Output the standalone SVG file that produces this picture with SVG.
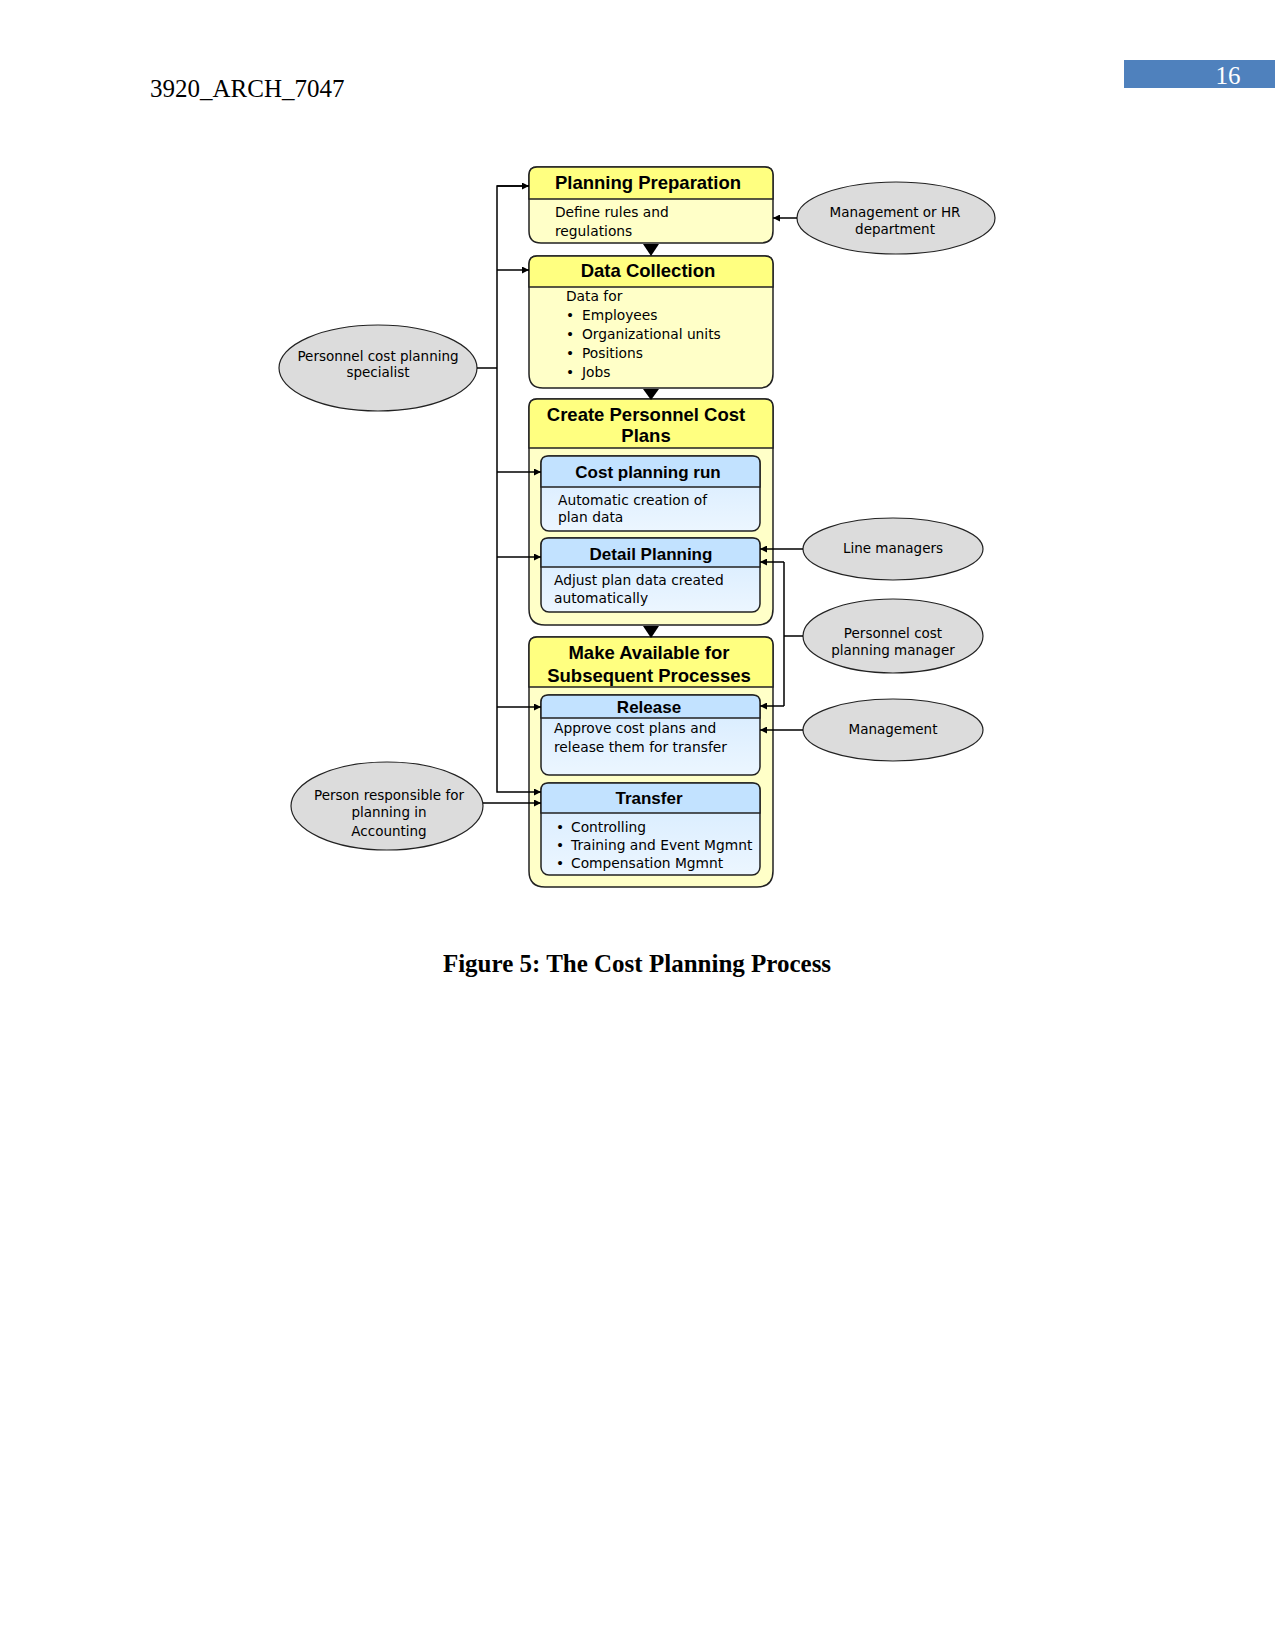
<svg xmlns="http://www.w3.org/2000/svg" width="1275" height="1651" viewBox="0 0 1275 1651">
<style>
.page{font-family:"Liberation Serif",serif;font-size:25px;fill:#000}
.outer{fill:#FFFFC8;stroke:#222;stroke-width:1.5}
.hdr{fill:#FFFF80;stroke:#222;stroke-width:1.5}
.sub{fill:url(#blueBody);stroke:#222;stroke-width:1.5}
.subh{fill:#C2E2FF;stroke:#222;stroke-width:1.5}
.t1{font-family:"Liberation Sans",Arial,sans-serif;font-weight:bold;font-size:18.5px;text-anchor:middle;fill:#000}
.t2{font-family:"Liberation Sans",Arial,sans-serif;font-weight:bold;font-size:17px;text-anchor:middle;fill:#000}
.b{font-family:"DejaVu Sans",sans-serif;font-size:13.8px;fill:#000}
.e{fill:#DCDCDC;stroke:#222;stroke-width:1.2}
.et{font-family:"DejaVu Sans",sans-serif;font-size:13.5px;text-anchor:middle;fill:#000}
.c{fill:none;stroke:#000;stroke-width:1.5}
.tri{fill:#000}
</style>
<defs>
<linearGradient id="blueBody" x1="0" y1="0" x2="0" y2="1">
<stop offset="0" stop-color="#D4EAFF"/>
<stop offset="1" stop-color="#ECF6FF"/>
</linearGradient>
<marker id="ah" viewBox="0 0 10 10" refX="10" refY="5" markerWidth="8" markerHeight="7" markerUnits="userSpaceOnUse" orient="auto">
<path d="M0,0 L10,5 L0,10 Z" fill="#000"/>
</marker>
</defs>

<g id="page-header">
<text class="page" x="150" y="97">3920_ARCH_7047</text>
<rect x="1124" y="60" width="151" height="28" fill="#4F81BD"/>
<text x="1228" y="84" font-family="Liberation Serif,serif" font-size="25" fill="#fff" text-anchor="middle">16</text>
</g>

<g id="planning-preparation">
<path class="outer" d="M529,175 Q529,167 537,167 H765 Q773,167 773,175 V231 Q773,243 761,243 H541 Q529,243 529,231 Z"/>
<path class="hdr" d="M529,199 V175 Q529,167 537,167 H765 Q773,167 773,175 V199 Z"/>
<text class="t1" x="648" y="189">Planning Preparation</text>
<text class="b" x="555" y="217">Define rules and</text>
<text class="b" x="555" y="236">regulations</text>
</g>

<g id="data-collection">
<path class="outer" d="M529,264 Q529,256 537,256 H765 Q773,256 773,264 V374 Q773,388 759,388 H543 Q529,388 529,374 Z"/>
<path class="hdr" d="M529,287 V264 Q529,256 537,256 H765 Q773,256 773,264 V287 Z"/>
<text class="t1" x="648" y="277">Data Collection</text>
<text class="b" x="566" y="301">Data for</text>
<text class="b" y="320"><tspan x="566">•</tspan><tspan x="582">Employees</tspan></text>
<text class="b" y="339"><tspan x="566">•</tspan><tspan x="582">Organizational units</tspan></text>
<text class="b" y="358"><tspan x="566">•</tspan><tspan x="582">Positions</tspan></text>
<text class="b" y="377"><tspan x="566">•</tspan><tspan x="582">Jobs</tspan></text>
</g>

<g id="create-personnel-cost-plans">
<path class="outer" d="M529,407 Q529,399 537,399 H765 Q773,399 773,407 V609 Q773,625 757,625 H545 Q529,625 529,609 Z"/>
<path class="hdr" d="M529,448 V407 Q529,399 537,399 H765 Q773,399 773,407 V448 Z"/>
<text class="t1" x="646" y="421">Create Personnel Cost</text>
<text class="t1" x="646" y="442">Plans</text>
</g>

<g id="cost-planning-run">
<rect class="sub" x="541" y="456" width="219" height="75" rx="8"/>
<path class="subh" d="M541,487 V463 Q541,456 548,456 H753 Q760,456 760,463 V487 Z"/>
<text class="t2" x="648" y="478">Cost planning run</text>
<text class="b" x="558" y="505">Automatic creation of</text>
<text class="b" x="558" y="522">plan data</text>
</g>

<g id="detail-planning">
<rect class="sub" x="541" y="538" width="219" height="74" rx="8"/>
<path class="subh" d="M541,567 V545 Q541,538 548,538 H753 Q760,538 760,545 V567 Z"/>
<text class="t2" x="651" y="560">Detail Planning</text>
<text class="b" x="554" y="585">Adjust plan data created</text>
<text class="b" x="554" y="603">automatically</text>
</g>

<g id="make-available">
<path class="outer" d="M529,645 Q529,637 537,637 H765 Q773,637 773,645 V871 Q773,887 757,887 H545 Q529,887 529,871 Z"/>
<path class="hdr" d="M529,687 V645 Q529,637 537,637 H765 Q773,637 773,645 V687 Z"/>
<text class="t1" x="649" y="659">Make Available for</text>
<text class="t1" x="649" y="682">Subsequent Processes</text>
</g>

<g id="release">
<rect class="sub" x="541" y="695" width="219" height="80" rx="8"/>
<path class="subh" d="M541,718 V702 Q541,695 548,695 H753 Q760,695 760,702 V718 Z"/>
<text class="t2" x="649" y="713">Release</text>
<text class="b" x="554" y="733">Approve cost plans and</text>
<text class="b" x="554" y="752">release them for transfer</text>
</g>

<g id="transfer">
<rect class="sub" x="541" y="783" width="219" height="92" rx="8"/>
<path class="subh" d="M541,813 V790 Q541,783 548,783 H753 Q760,783 760,790 V813 Z"/>
<text class="t2" x="649" y="804">Transfer</text>
<text class="b" y="832"><tspan x="556">•</tspan><tspan x="571">Controlling</tspan></text>
<text class="b" y="850"><tspan x="556">•</tspan><tspan x="571">Training and Event Mgmnt</tspan></text>
<text class="b" y="868"><tspan x="556">•</tspan><tspan x="571">Compensation Mgmnt</tspan></text>
</g>

<g id="management-or-hr">
<ellipse class="e" cx="896" cy="218" rx="99" ry="36"/>
<text class="et" x="895" y="217">Management or HR</text>
<text class="et" x="895" y="234">department</text>
</g>

<g id="personnel-cost-planning-specialist">
<ellipse class="e" cx="378" cy="368" rx="99" ry="43"/>
<text class="et" x="378" y="361">Personnel cost planning</text>
<text class="et" x="378" y="377">specialist</text>
</g>

<g id="line-managers">
<ellipse class="e" cx="893" cy="549" rx="90" ry="31"/>
<text class="et" x="893" y="553">Line managers</text>
</g>

<g id="personnel-cost-planning-manager">
<ellipse class="e" cx="893" cy="636" rx="90" ry="37"/>
<text class="et" x="893" y="638">Personnel cost</text>
<text class="et" x="893" y="655">planning manager</text>
</g>

<g id="management">
<ellipse class="e" cx="893" cy="730" rx="90" ry="31"/>
<text class="et" x="893" y="734">Management</text>
</g>

<g id="person-responsible-accounting">
<ellipse class="e" cx="387" cy="806" rx="96" ry="44"/>
<text class="et" x="389" y="800">Person responsible for</text>
<text class="et" x="389" y="817">planning in</text>
<text class="et" x="389" y="836">Accounting</text>
</g>

<g id="connectors">
<polygon class="tri" points="643,244 659,244 651,256"/>
<polygon class="tri" points="643,389 659,389 651,400"/>
<polygon class="tri" points="643,626 659,626 651,638"/>
<path class="c" d="M529,186 H497 V792 H541" marker-end="url(#ah)"/>
<path class="c" d="M497,186 H529" marker-end="url(#ah)"/>
<path class="c" d="M497,270 H529" marker-end="url(#ah)"/>
<path class="c" d="M497,472 H541" marker-end="url(#ah)"/>
<path class="c" d="M497,557 H541" marker-end="url(#ah)"/>
<path class="c" d="M497,707 H541" marker-end="url(#ah)"/>
<path class="c" d="M477,368 H497"/>
<path class="c" d="M483,803 H541" marker-end="url(#ah)"/>
<path class="c" d="M797,218 H773" marker-end="url(#ah)"/>
<path class="c" d="M803,549 H760" marker-end="url(#ah)"/>
<path class="c" d="M784,562 H760" marker-end="url(#ah)"/>
<path class="c" d="M784,706 H760" marker-end="url(#ah)"/>
<path class="c" d="M803,636 H784 M784,562 V706"/>
<path class="c" d="M803,730 H760" marker-end="url(#ah)"/>
</g>

<g id="caption">
<text x="637" y="972" font-family="Liberation Serif,serif" font-size="25" font-weight="bold" text-anchor="middle" fill="#000">Figure 5: The Cost Planning Process</text>
</g>
</svg>
